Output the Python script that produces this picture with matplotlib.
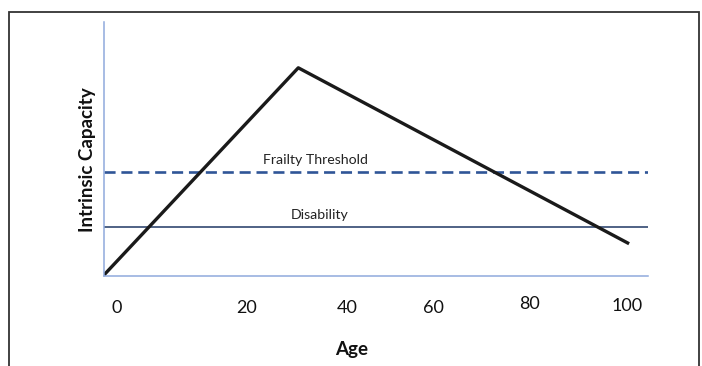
import matplotlib
matplotlib.use("Agg")
import matplotlib.pyplot as plt
from matplotlib.patches import Rectangle

# Data (conceptual trajectory of intrinsic capacity over age)
age = [0, 37, 100]
capacity = [0.5, 100, 15.5]
frailty_threshold = 50
disability_level = 23.5
tick_labels = ["0", "20", "40", "60", "80", "100"]
tick_pos = [2.5, 27.2, 46.3, 62.7, 81.1, 99.6]
tick_dy = [0, 0, 0, 0, -4, -2]  # pixel offsets as in the picture

W, H = 702, 366
fig = plt.figure(figsize=(W / 100, H / 100), dpi=100)
fig.patch.set_facecolor("white")

# outer frame
fig.add_artist(Rectangle((9 / W, -0.05), (699 - 9) / W, (H - 12) / H + 0.05,
                         transform=fig.transFigure, fill=False,
                         edgecolor="#333333", linewidth=1.3))

ax = fig.add_axes([104 / W, (H - 276) / H, (648 - 104) / W, (276 - 22) / H])
ax.set_xlim(0, 103.6)
ax.set_ylim(0, 122)
for s in ["top", "right"]:
    ax.spines[s].set_visible(False)
for s in ["left", "bottom"]:
    ax.spines[s].set_color("#8faadc")
    ax.spines[s].set_linewidth(1.1)
ax.set_xticks([])
ax.set_yticks([])

font = "Lato"
ax.axhline(frailty_threshold, color="#2f5597", lw=1.9, ls=(0, (4.2, 2.2)))
ax.axhline(disability_level, color="#1f3864", lw=1.1)
ax.plot(age, capacity, color="#1a1a1a", lw=2.4, solid_capstyle="butt")

ax.text(40.3, frailty_threshold + 3, "Frailty Threshold", ha="center", va="bottom",
        fontsize=10.2, family=font, color="#222222")
ax.text(41, disability_level + 3, "Disability", ha="center", va="bottom",
        fontsize=10.2, family=font, color="#222222")

for p, lab, dy in zip(tick_pos, tick_labels, tick_dy):
    ax.annotate(lab, xy=(p, 0), xycoords="data", xytext=(0, -23 - dy * 0.72),
                textcoords="offset points", ha="center", va="center",
                fontsize=13, family=font, color="#111111")

fig.text(352 / W, 1 - 349 / H, "Age", ha="center", va="center",
         fontsize=13.5, fontweight="bold", family=font, color="#111111")
fig.text(88 / W, 1 - 160 / H, "Intrinsic Capacity", ha="center", va="center",
         rotation=90, fontsize=13.5, fontweight="bold", family=font, color="#111111")

fig.savefig("out.png", dpi=100)
